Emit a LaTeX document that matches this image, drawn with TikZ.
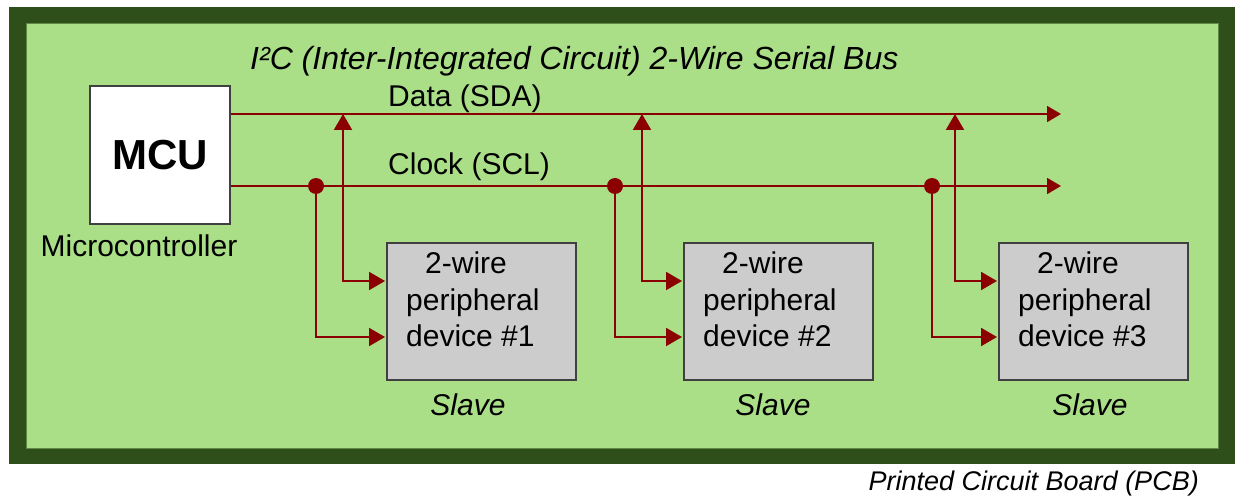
\documentclass[tikz,border=0pt]{standalone}
\usepackage{fontspec}
\setmainfont{Liberation Sans}
\usetikzlibrary{arrows.meta}
\definecolor{pcbdark}{HTML}{2E4F19}
\definecolor{pcblight}{HTML}{AADF88}
\definecolor{wirered}{HTML}{8B0000}
\definecolor{boxgray}{HTML}{CCCCCC}
\definecolor{edgegray}{HTML}{404040}
\tikzset{
  txt/.style={inner sep=0pt, font=\fontsize{30}{36}\selectfont},
  ittxt/.style={inner sep=0pt, font=\fontsize{30}{36}\selectfont\itshape},
  boardouter/.style={fill=pcbdark, draw=none, inner sep=0pt, minimum width=1226pt, minimum height=457pt},
  boardinner/.style={fill=pcblight, draw=pcbdark!60!pcblight, line width=0.8pt, inner sep=0pt, minimum width=1192pt, minimum height=425pt},
  mcubox/.style={fill=white, draw=edgegray, line width=2pt, inner sep=0pt, minimum width=140pt, minimum height=138pt, font=\fontsize{42}{48}\selectfont\bfseries},
  devbox/.style={fill=boxgray, draw=edgegray, line width=2pt, inner sep=0pt, minimum width=189pt, minimum height=137pt},
  bus/.style={draw=wirered, line width=1.8pt},
  wire/.style={draw=wirered, line width=2pt},
  endtip/.tip={Triangle[length=14pt,width=16pt]},
  taptip/.tip={Triangle[length=16pt,width=18pt]},
  dot/.style={circle, fill=wirered, inner sep=0pt, minimum size=16pt},
}
\begin{document}
\begin{tikzpicture}[x=1pt,y=-1pt]
\useasboundingbox (0,0) rectangle (1235,497);
\fill[white] (0,0) rectangle (1235,497);
\node[boardouter, anchor=north west] (pcb) at (9,7) {};
\node[boardinner, anchor=north west] (board) at (26,23) {};
\node[inner sep=0pt, font=\fontsize{32}{38}\selectfont\itshape, anchor=base west] (title) at (250,70) {I²C (Inter-Integrated Circuit) 2-Wire Serial Bus};
\node[inner sep=0pt, font=\fontsize{27}{32}\selectfont\itshape, anchor=base east] (pcblabel) at (1199,490) {Printed Circuit Board (PCB)};
\node[mcubox, anchor=north west] (mcu) at (89,85) {MCU};
\node[txt, anchor=base] (mcuname) at (139,257) {Microcontroller};
\coordinate (sdaend) at (1061,114);
\coordinate (sclend) at (1061,186);
\draw[bus, -endtip] (mcu.east |- sdaend) -- (sdaend);
\draw[bus, -endtip] (mcu.east |- sclend) -- (sclend);
\node[txt, anchor=base west] (sdalabel) at (388,107) {Data (SDA)};
\node[txt, anchor=base west] (scllabel) at (388,175) {Clock (SCL)};
\foreach \i/\bx/\tx/\jx/\sx in {1/386/343/316/468, 2/683/642/615/773, 3/998/955/932/1090} {
  \node[devbox, anchor=north west] (d\i) at (\bx,242) {};
  \node[txt, anchor=base west] (la\i) at (\bx+39,274) {2-wire};
  \node[txt, anchor=base west] (lb\i) at (\bx+20,310) {peripheral};
  \node[txt, anchor=base west] (lc\i) at (\bx+20,346) {device \#\i};
  \node[ittxt, anchor=base] (s\i) at (\sx,415) {Slave};
  \coordinate (t\i) at (\tx,114);
  \coordinate (jc\i) at (\jx,186);
  \coordinate (da\i) at (\bx-1,281);
  \coordinate (db\i) at (\bx-1,337);
  \draw[wire, taptip-taptip] (t\i) -- (t\i |- da\i) -- (da\i);
  \draw[wire, -taptip] (jc\i) -- (jc\i |- db\i) -- (db\i);
  \node[dot] (j\i) at (jc\i) {};
}
\end{tikzpicture}
\end{document}
